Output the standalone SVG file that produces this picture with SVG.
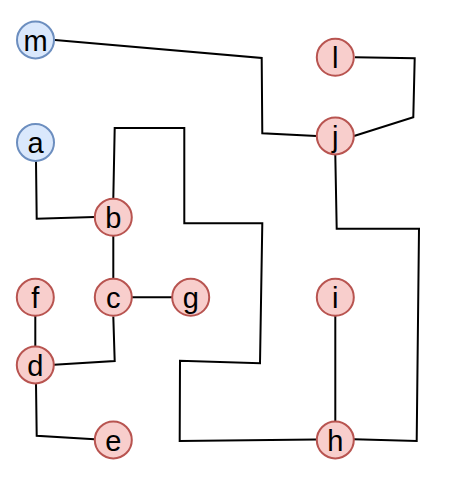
<svg xmlns="http://www.w3.org/2000/svg" width="454" height="479" viewBox="0 0 454 479">
<style>
.edge{fill:none;stroke:#000;stroke-width:2;stroke-linejoin:miter}
.red{fill:#f8cecc;stroke:#b85450;stroke-width:2}
.blue{fill:#dae8fc;stroke:#6c8ebf;stroke-width:2}
text{font-family:"Liberation Sans",Arial,sans-serif;font-size:29px;text-anchor:middle;fill:#000}
</style>
<rect width="454" height="479" fill="#fff"/>
<g id="connectors">
<polyline class="edge" points="55,40 261.7,58 262.3,133.3 316.5,136"/>
<polyline class="edge" points="355,57.3 414.7,58.3 413.3,117.3 354,136"/>
<polyline class="edge" points="36,161.3 36.7,218.7 94.5,217"/>
<polyline class="edge" points="113.3,198.5 114.7,128 184.3,128 184.3,223.3 262.3,223.3 260,363.3 180,360.7 179.7,441 316.5,439.5"/>
<polyline class="edge" points="113.3,236 113.3,278.5"/>
<polyline class="edge" points="132,297.3 172,297.3"/>
<polyline class="edge" points="113.3,316.5 114.7,361 54,364.7"/>
<polyline class="edge" points="35.3,316 35.3,346.5"/>
<polyline class="edge" points="36,383.5 36.7,435.7 94.5,439.3"/>
<polyline class="edge" points="335.3,316 335.3,421.5"/>
<polyline class="edge" points="335.3,155 336.7,228.7 419,228.7 416.7,441 354,439.3"/>
</g>
<g id="node-m"><circle class="blue" cx="35.5" cy="40" r="18.5"/><text x="35.5" y="50.5">m</text></g>
<g id="node-l"><circle class="red" cx="335.3" cy="57.3" r="18.5"/><text x="335.3" y="67.8">l</text></g>
<g id="node-a"><circle class="blue" cx="35.5" cy="142.5" r="18.5"/><text x="35.5" y="153">a</text></g>
<g id="node-j"><circle class="red" cx="335.3" cy="136" r="18.5"/><text x="335.3" y="146.5">j</text></g>
<g id="node-b"><circle class="red" cx="113.3" cy="217.3" r="18.5"/><text x="113.3" y="227.8">b</text></g>
<g id="node-f"><circle class="red" cx="35.3" cy="297.3" r="18.5"/><text x="35.3" y="307.8">f</text></g>
<g id="node-c"><circle class="red" cx="113.3" cy="297.3" r="18.5"/><text x="113.3" y="307.8">c</text></g>
<g id="node-g"><circle class="red" cx="190.7" cy="297.3" r="18.5"/><text x="190.7" y="307.8">g</text></g>
<g id="node-i"><circle class="red" cx="335.3" cy="297.3" r="18.5"/><text x="335.3" y="307.8">i</text></g>
<g id="node-d"><circle class="red" cx="35.3" cy="365" r="18.5"/><text x="35.3" y="375.5">d</text></g>
<g id="node-e"><circle class="red" cx="113.3" cy="440" r="18.5"/><text x="113.3" y="450.5">e</text></g>
<g id="node-h"><circle class="red" cx="335.3" cy="440" r="18.5"/><text x="335.3" y="450.5">h</text></g>
</svg>
